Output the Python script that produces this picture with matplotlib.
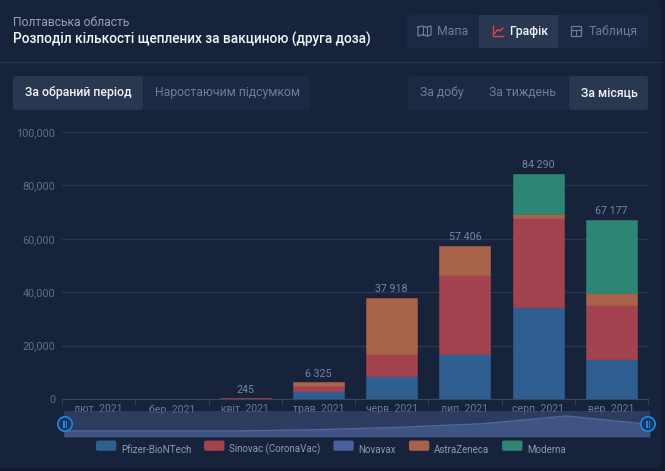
import matplotlib
matplotlib.use("Agg")
import matplotlib.pyplot as plt
from matplotlib.patches import FancyBboxPatch, Patch, Circle, Rectangle
from matplotlib.legend_handler import HandlerPatch
import numpy as np

plt.rcParams['font.family'] = ['Roboto', 'DejaVu Sans']

months = ['лют. 2021', 'бер. 2021', 'квіт. 2021', 'трав. 2021', 'черв. 2021', 'лип. 2021', 'серп. 2021', 'вер. 2021']
pfizer = [0, 0, 0, 2870, 8500, 16730, 34580, 15100]
sinovac = [0, 0, 245, 2130, 8350, 29570, 33220, 20230]
novavax = [0, 0, 0, 0, 0, 0, 0, 0]
astrazeneca = [0, 0, 0, 1325, 21068, 11106, 1370, 4370]
moderna = [0, 0, 0, 0, 0, 0, 15120, 27477]
series_names = ['Pfizer-BioNTech', 'Sinovac (CoronaVac)', 'Novavax', 'AstraZeneca', 'Moderna']
series_values = [pfizer, sinovac, novavax, astrazeneca, moderna]
series_colors = ['#2f5f91', '#a5424f', '#4a5f9e', '#a9634a', '#2d8573']
yticks = [0, 20000, 40000, 60000, 80000, 100000]
ytick_labels = ['0', '20,000', '40,000', '60,000', '80,000', '100,000']

W, H = 665, 471
PAGE = '#131c30'
BG = '#17233b'
fig = plt.figure(figsize=(W / 100, H / 100), dpi=100, facecolor=PAGE)

def rect(x0, y0, x1, y1):
    return [x0 / W, 1 - y1 / H, (x1 - x0) / W, (y1 - y0) / H]

# overlay for interface elements, in pixel coordinates
ui = fig.add_axes([0, 0, 1, 1], zorder=0)
ui.set_xlim(0, W); ui.set_ylim(H, 0); ui.axis('off')

def box(x0, y0, x1, y1, color, r=3):
    ui.add_patch(FancyBboxPatch((x0 + r, y0 + r), x1 - x0 - 2 * r, y1 - y0 - 2 * r,
                                boxstyle=f'round,pad={r},rounding_size={r}', fc=color, ec='none'))

box(-12, -1, 661, 468, BG, r=7)

BTN, ACT = '#1c2942', '#2a3750'
DIM, WHITE = '#6f7d99', '#f2f4f8'
FS = 8.8
ui.plot([0, 661], [62, 62], color='#26324c', lw=1)
ui.text(13, 26, 'Полтавська область', color='#97a2b6', fontsize=8.7, va='baseline')
ui.text(13, 44, 'Розподіл кількості щеплених за вакциною (друга доза)', color=WHITE, fontsize=9.8, va='baseline', fontweight='medium')

box(407, 15, 648, 48, BTN)
ui.add_patch(Rectangle((479, 15), 79, 33, fc=ACT, ec='none'))
ui.text(437, 35, 'Мапа', color=DIM, fontsize=FS, va='baseline')
ui.text(509, 35, 'Графік', color=WHITE, fontsize=FS, va='baseline', fontweight='medium')
ui.text(589, 35, 'Таблиця', color=DIM, fontsize=FS, va='baseline')
# small icons
ui.plot([418, 418, 423, 427, 431, 431, 426, 422, 418], [27, 36, 34.5, 36, 35, 26, 27, 26, 27], color=DIM, lw=0.9)
ui.plot([422.5, 422.5], [26.5, 34.5], color=DIM, lw=0.8); ui.plot([426.5, 426.5], [27, 35.5], color=DIM, lw=0.8)
ui.plot([493, 493, 503], [26, 35.5, 35.5], color='#e5434f', lw=1.0)
ui.plot([495, 498, 500, 503], [33, 29.5, 31, 28], color='#e5434f', lw=1.0)
ui.add_patch(Rectangle((571, 26), 10, 9.5, fc='none', ec=DIM, lw=0.9))
ui.plot([571, 581], [29.5, 29.5], color=DIM, lw=0.9)
ui.plot([576, 576], [29.5, 35.5], color=DIM, lw=0.7)

box(13, 76, 310, 110, BTN)
box(13, 76, 143, 110, ACT)
ui.text(25, 96, 'За обраний період', color=WHITE, fontsize=FS, va='baseline', fontweight='medium')
ui.text(155, 96, 'Наростаючим підсумком', color=DIM, fontsize=FS, va='baseline')

box(408, 76, 648, 110, BTN)
box(569, 76, 648, 110, ACT)
ui.text(420, 96, 'За добу', color=DIM, fontsize=FS, va='baseline')
ui.text(489, 96, 'За тиждень', color=DIM, fontsize=FS, va='baseline')
ui.text(581, 96, 'За місяць', color=WHITE, fontsize=FS, va='baseline', fontweight='medium')

# main chart
ax = fig.add_axes(rect(62, 132, 648, 399), zorder=1)
ax.set_facecolor('none')
x = np.arange(len(months))
bottom = np.zeros(len(months))
handles = []
for name, vals, col in zip(series_names, series_values, series_colors):
    vals = np.array(vals, float)
    keep = vals > 0
    ax.bar(x[keep], vals[keep], 0.695, bottom=bottom[keep], color=col, edgecolor=col, linewidth=0.4, zorder=3, label=name)
    bottom += vals
    handles.append(Patch(fc=col, ec='none', label=name))
for xi, total in zip(x, bottom):
    if total > 0:
        ax.annotate(f'{int(total):,}'.replace(',', ' '), (xi, total), xytext=(0, 2.5), textcoords='offset points',
                    ha='center', va='bottom', color='#7485a6', fontsize=7.7, zorder=4)
ax.set_xlim(-0.5, len(months) - 0.5)
ax.set_ylim(0, 100000)
ax.set_yticks(yticks, ytick_labels)
ax.set_xticks(x, months)
ax.set_xticks(np.arange(-0.5, len(months)), minor=True)
ax.grid(axis='y', color='#2b3752', lw=1, zorder=0)
for s in ['top', 'right', 'left']:
    ax.spines[s].set_visible(False)
ax.spines['bottom'].set_color('#3a4764')
ax.tick_params(axis='y', length=0, labelsize=7.8, labelcolor='#5f6d88', pad=5)
ax.tick_params(axis='x', which='major', length=0, labelsize=7.6, labelcolor='#6c7995', pad=3.8)
ax.tick_params(axis='x', which='minor', length=4, color='#3a4764')

# range navigator, its outline follows the first series
nav = fig.add_axes(rect(64, 411, 650, 437), zorder=2)
nav.set_facecolor('none')
t = np.arange(len(pfizer))
nav.add_patch(Rectangle((0, 0), 1, 1, transform=nav.transAxes, fc='#3a4d78', alpha=0.6, ec='none'))
nav.fill_between(t, pfizer, -13800, color='#4f659c', alpha=0.6, lw=0)
nav.plot(t, pfizer, color='#52689c', lw=1)
nav.set_xlim(0, 7); nav.set_ylim(-13800, 46100); nav.axis('off')

top = fig.add_axes([0, 0, 1, 1], zorder=3)
top.set_xlim(0, W); top.set_ylim(H, 0); top.axis('off')
for cx in (65, 648):
    top.add_patch(Circle((cx, 424), 7.2, fc='#1d3558', ec='#1a8ae6', lw=1.2))
    top.add_patch(Rectangle((cx - 1.8, 420.5), 1.5, 7, fc='#1a8ae6', ec='none'))
    top.add_patch(Rectangle((cx + 0.5, 420.5), 1.5, 7, fc='#1a8ae6', ec='none'))

def rounded(legend, orig_handle, xdescent, ydescent, width, height, fontsize):
    return FancyBboxPatch((xdescent + 1.5, ydescent + 1.5), width - 3, height - 3,
                          boxstyle='round,pad=1.5,rounding_size=1.5')

fig.legend(handles=handles, loc='center', bbox_to_anchor=(331 / W, 1 - 449.5 / H), ncol=5, frameon=False,
           fontsize=7.0, labelcolor='#8d9ab2', handlelength=2.1, handleheight=1.25, handletextpad=0.5,
           columnspacing=1.3, handler_map={Patch: HandlerPatch(patch_func=rounded)})

fig.savefig('out.png', dpi=100, facecolor=PAGE)
